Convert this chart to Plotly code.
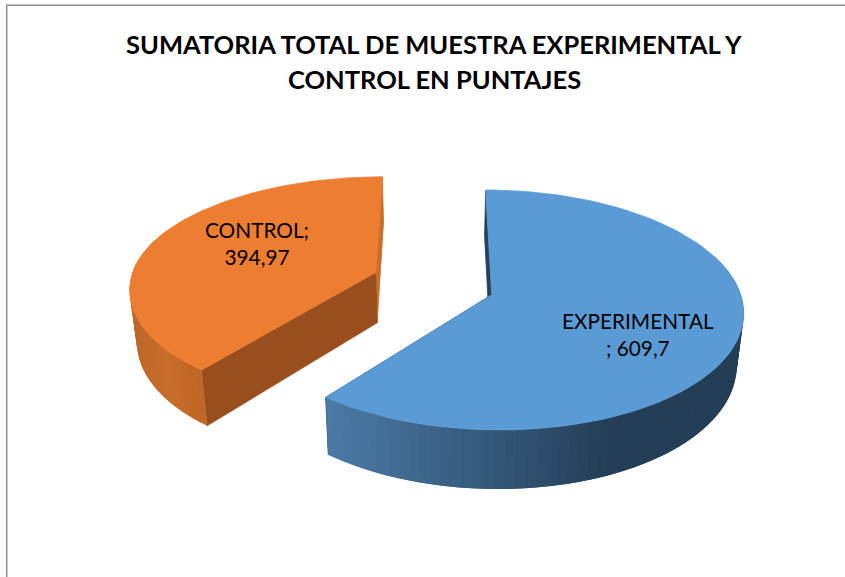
import numpy as np
import plotly.graph_objects as go

categories = ["EXPERIMENTAL", "CONTROL"]
values = [609.7, 394.97]
label_text = ["EXPERIMENTAL<br>; 609,7", "CONTROL;<br>394,97"]
title_lines = ["SUMATORIA TOTAL DE MUESTRA EXPERIMENTAL Y", "CONTROL EN PUNTAJES"]

top_colors = ["#5B9BD5", "#ED7D31"]
cut_colors = ["#223D55", "#984F1D"]
sliver_colors = ["#25415B", "#C96F2A"]

# pie look: perspective + explosion, in pixels of the 845x577 page
RX, RY, DEPTH, PERSP = 246, 115.2, 51, 0.125
CX, CY, VX = 434, 283.5, 438
BOTTOM_X = 0.977  # verticals lean inward a little going down
explode = [(0.232, -0.097), (-0.24, 0.097)]
back_squash = [1.0, 0.95]  # the far rim of the control slice sits a bit lower


def project(u, v, bottom=False):
    s = 1 / (1 + PERSP * v)
    x = VX + (CX - VX + RX * u) * s * (BOTTOM_X if bottom else 1)
    y = CY + ((DEPTH if bottom else 0) - RY * v) * s
    return x, y


def poly(fig, xs, ys, color, edge=0.8):
    fig.add_trace(go.Scatter(x=xs, y=ys, mode="lines", fill="toself", fillcolor=color,
                             line=dict(color=color, width=edge), hoverinfo="skip",
                             showlegend=False))


def mix(c1, c2, t):
    return "rgb(%d,%d,%d)" % tuple(a + (b - a) * t for a, b in zip(c1, c2))


def blue_wall(x):
    # side shade runs by screen x, light at the left
    t = min(max((x - 327) / (610 - 327), 0), 1)
    return mix((75, 122, 166), (35, 62, 86), t)


def orange_wall(x):
    if x < 165:
        return mix((190, 104, 42), (200, 109, 42), (x - 130) / 35)
    return mix((200, 109, 42), (190, 102, 38), (x - 165) / 40)


wall_shade = [blue_wall, orange_wall]

fig = go.Figure()

total = sum(values)
blue_end = 2 * np.pi * values[0] / total
spans = [(0, blue_end), (blue_end, 2 * np.pi)]

# orange goes first so the blue one sits on top of it
for i in [1, 0]:
    a0, a1 = spans[i]
    ox, oy = explode[i]
    ang = np.linspace(a0, a1, 100)
    cos = np.cos(ang)
    us = ox + np.sin(ang)
    vs = oy + np.where(cos > 0, cos * back_squash[i], cos)

    # the two cut faces, before the wall and the top so those can hide them
    for k, col in [(-1 if i == 1 else 0, sliver_colors[i]), (0 if i == 1 else -1, cut_colors[i])]:
        p0 = project(ox, oy)
        p1 = project(us[k], vs[k])
        p2 = project(us[k], vs[k], True)
        p3 = project(ox, oy, True)
        poly(fig, [p0[0], p1[0], p2[0], p3[0], p0[0]], [p0[1], p1[1], p2[1], p3[1], p0[1]], col)

    # outer wall, strips overlap by one step so no seams show
    for k in range(len(ang) - 1):
        if cos[k] > 0.35:
            continue
        k2 = min(k + 2, len(ang) - 1)
        x0, y0 = project(us[k], vs[k])
        x1, y1 = project(us[k2], vs[k2])
        x2, y2 = project(us[k2], vs[k2], True)
        x3, y3 = project(us[k], vs[k], True)
        poly(fig, [x0, x1, x2, x3, x0], [y0, y1, y2, y3, y0], wall_shade[i]((x0 + x1) / 2), edge=0)

    # top
    xs, ys = project(us, vs)
    ax, ay = project(ox, oy)
    poly(fig, [ax, *xs, ax], [ay, *ys, ay], top_colors[i])

for line, y in zip(title_lines, [44, 79]):
    fig.add_annotation(x=434, y=y, text="<b>%s</b>" % line, showarrow=False,
                       font=dict(family="Lato", size=25.5, color="black"))

for text, x, y in zip(label_text, [638, 257], [333.5, 242.5]):
    fig.add_annotation(x=x, y=y, text=text, showarrow=False, align="center",
                       font=dict(family="Lato", size=20.8, color="black"))

# chart frame, only the top and left show in the crop
fig.add_shape(type="path", path="M 6.7 577 L 6.7 5.3 L 845 5.3",
              line=dict(color="#8C8C8C", width=1.5))

fig.update_layout(
    width=845, height=577, margin=dict(l=0, r=0, t=0, b=0),
    paper_bgcolor="white", plot_bgcolor="white", showlegend=False,
    xaxis=dict(range=[0, 845], visible=False, fixedrange=True),
    yaxis=dict(range=[577, 0], visible=False, fixedrange=True),
)

fig.write_html("out.html", post_script="document.body.style.margin='0';document.body.style.overflow='hidden';",
               config={"displayModeBar": False})
